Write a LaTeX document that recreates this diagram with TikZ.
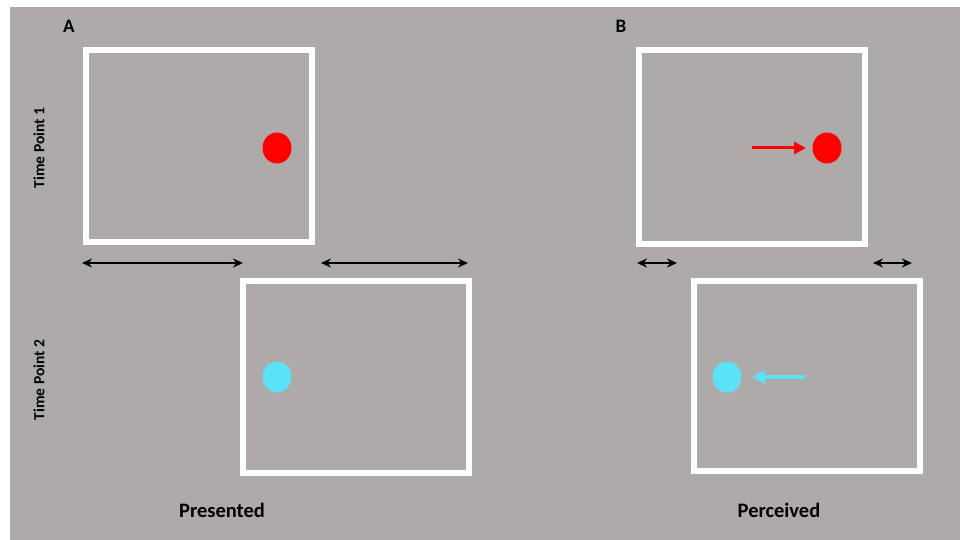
\documentclass[tikz,border=0pt]{standalone}
\usepackage{fontspec}
\setmainfont{Carlito}
\usetikzlibrary{shapes.geometric,arrows.meta}
\definecolor{bggray}{RGB}{174,170,169}
\definecolor{dotred}{RGB}{255,0,0}
\definecolor{dotcyan}{RGB}{92,226,247}
\tikzset{
  frame/.style={draw=white,line width=6pt,inner sep=0pt,minimum width=226pt,minimum height=192pt},
  dot/.style={ellipse,inner sep=0pt,minimum width=29pt,minimum height=31pt},
  span/.style={draw=black,line width=2.8pt,{Stealth[length=10pt,width=9pt]}-{Stealth[length=10pt,width=9pt]}},
  lbl/.style={font=\bfseries\fontsize{20.5}{24}\selectfont,inner sep=0pt},
  letter/.style={font=\bfseries\fontsize{19}{22}\selectfont,inner sep=0pt},
  side/.style={font=\bfseries\fontsize{15.5}{18}\selectfont,inner sep=0pt,rotate=90}
}
\begin{document}
\begin{tikzpicture}[x=1pt,y=-1pt]
\useasboundingbox (0,0) rectangle (960,540);
\fill[white] (0,0) rectangle (960,540);
\fill[bggray] (10,7) rectangle (960,540);
% frames
\node[frame] (a1) at (199,146) {};
\node[frame] (a2) at (356,377) {};
\node[frame,minimum height=194pt] (b1) at (752,147) {};
\node[frame,minimum height=190pt] (b2) at (807,376) {};
% dots
\node[dot,fill=dotred] (ra) at (277,148) {};
\node[dot,fill=dotcyan] (ca) at (277,377) {};
\node[dot,fill=dotred] (rb) at (827,148) {};
\node[dot,fill=dotcyan] (cb) at (727,377) {};
% motion arrows
\coordinate (rs) at (752,148);
\coordinate (re) at (806,148);
\coordinate (cs) at (805,377);
\coordinate (ce) at (752,377);
\draw[dotred,line width=3pt,-{Triangle[length=12pt,width=12pt]}] (rs) -- (re);
\draw[dotcyan,line width=4pt,-{Triangle[length=13pt,width=13pt]}] (cs) -- (ce);
% span arrows
\coordinate (s1a) at (82,263); \coordinate (s1b) at (243,263);
\coordinate (s2a) at (321,263); \coordinate (s2b) at (468,263);
\coordinate (s3a) at (637,263); \coordinate (s3b) at (677,263);
\coordinate (s4a) at (873,263); \coordinate (s4b) at (912,263);
\draw[span] (s1a) -- (s1b);
\draw[span] (s2a) -- (s2b);
\draw[span] (s3a) -- (s3b);
\draw[span] (s4a) -- (s4b);
% labels
\node[letter] (la) at (69,26) {A};
\node[letter] (lb) at (621,26) {B};
\node[side] (t1) at (39,148) {Time Point 1};
\node[side] (t2) at (39,380) {Time Point 2};
\node[lbl] (pres) at (222,510) {Presented};
\node[lbl] (perc) at (779,510) {Perceived};
\end{tikzpicture}
\end{document}
